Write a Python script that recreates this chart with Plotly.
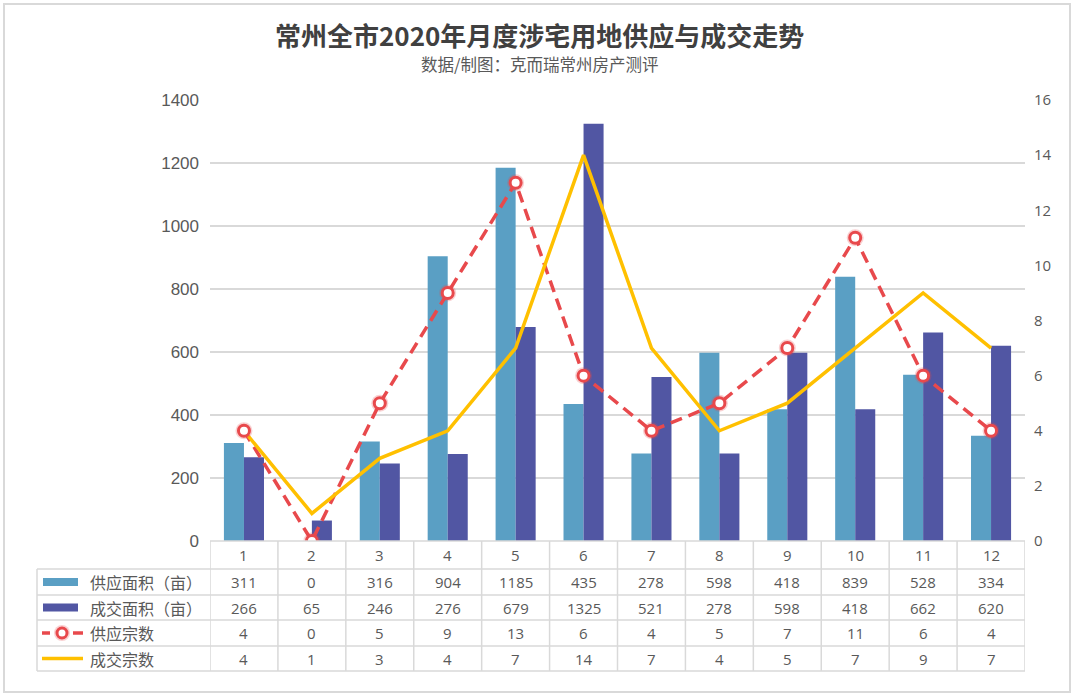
import plotly.graph_objects as go

months = [1, 2, 3, 4, 5, 6, 7, 8, 9, 10, 11, 12]
supply_area = [311, 0, 316, 904, 1185, 435, 278, 598, 418, 839, 528, 334]
deal_area = [266, 65, 246, 276, 679, 1325, 521, 278, 598, 418, 662, 620]
supply_count = [4, 0, 5, 9, 13, 6, 4, 5, 7, 11, 6, 4]
deal_count = [4, 1, 3, 4, 7, 14, 7, 4, 5, 7, 9, 7]
series_names = ["供应面积（亩）", "成交面积（亩）", "供应宗数", "成交宗数"]
title_text = "常州全市2020年月度涉宅用地供应与成交走势"
subtitle_text = "数据/制图：克而瑞常州房产测评"

W, H = 1080, 699
L, R, T, B = 210, 55, 100, 158
PW = W - L - R
PH = H - T - B
PLOT_BOTTOM = H - B

C_SUP = "#5A9FC4"
C_DEAL = "#5156A3"
C_RED = "#E8494C"
C_YEL = "#FFC000"
GRID = "#D9D9D9"
TXT = "#595959"
CJK = "Noto Sans CJK SC"


def py2p(py):
    return (PLOT_BOTTOM - py) / PH


def px2p(px):
    return (px - L) / PW


fig = go.Figure()
fig.add_trace(go.Bar(x=months, y=supply_area, name=series_names[0], marker_color=C_SUP,
                     marker_line_width=0))
fig.add_trace(go.Bar(x=months, y=deal_area, name=series_names[1], marker_color=C_DEAL,
                     marker_line_width=0))
fig.add_trace(go.Scatter(x=months, y=supply_count, name=series_names[2], yaxis="y2",
                         mode="lines", line=dict(color=C_RED, width=3.5, dash="12px,7px")))
fig.add_trace(go.Scatter(x=months, y=deal_count, name=series_names[3], yaxis="y2",
                         mode="lines", line=dict(color=C_YEL, width=3.5)))
# marker halo + ring
fig.add_trace(go.Scatter(x=months, y=supply_count, yaxis="y2", mode="markers",
                         marker=dict(size=17, color="rgba(232,73,76,0.25)", line=dict(width=0)),
                         showlegend=False, hoverinfo="skip"))
fig.add_trace(go.Scatter(x=months, y=supply_count, yaxis="y2", mode="markers",
                         marker=dict(size=11, color="white", line=dict(color=C_RED, width=3)),
                         showlegend=False, hoverinfo="skip"))

shapes = []
annotations = []

# Outer border
shapes.append(dict(type="rect", xref="paper", yref="paper", x0=px2p(4), x1=px2p(1070),
                   y0=py2p(692), y1=py2p(4), line=dict(color=GRID, width=2), layer="below"))

# table geometry
row_lines = [569, 595, 620, 646, 671]
row_centers = [582, 607.5, 633, 658.5]
table_left = 37

# horizontal lines
shapes.append(dict(type="line", xref="paper", yref="paper", x0=0, x1=1, y0=py2p(541), y1=py2p(541),
                   line=dict(color=GRID, width=1.5)))
for yl in row_lines:
    shapes.append(dict(type="line", xref="paper", yref="paper", x0=px2p(table_left), x1=1,
                       y0=py2p(yl), y1=py2p(yl), line=dict(color=GRID, width=1.5)))
# vertical lines
shapes.append(dict(type="line", xref="paper", yref="paper", x0=px2p(table_left), x1=px2p(table_left),
                   y0=py2p(row_lines[0]), y1=py2p(row_lines[-1]), line=dict(color=GRID, width=1.5)))
for i in range(len(months) + 1):
    xb = months[0] - 0.5 + i
    shapes.append(dict(type="line", xref="x", yref="paper", x0=xb, x1=xb,
                       y0=py2p(541), y1=py2p(row_lines[-1]), line=dict(color=GRID, width=1.5)))

# header row (month labels)
for m in months:
    annotations.append(dict(x=m, y=py2p(555), xref="x", yref="paper", text=str(m), showarrow=False,
                            xanchor="center", yanchor="middle",
                            font=dict(family="Open Sans", size=15, color=TXT)))

table_rows = [supply_area, deal_area, supply_count, deal_count]
for r, vals in enumerate(table_rows):
    yc = py2p(row_centers[r])
    for m, v in zip(months, vals):
        annotations.append(dict(x=m, y=yc, xref="x", yref="paper", text=str(v), showarrow=False,
                                xanchor="center", yanchor="middle",
                                font=dict(family="Open Sans", size=15, color=TXT)))
    annotations.append(dict(x=px2p(88), y=yc, xref="paper", yref="paper", text=series_names[r],
                            showarrow=False, xanchor="left", yanchor="middle",
                            font=dict(family=CJK, size=16, color=TXT)))

# legend symbols
sx0, sx1 = px2p(43), px2p(78)
for r, col in [(0, C_SUP), (1, C_DEAL)]:
    yc = row_centers[r]
    shapes.append(dict(type="rect", xref="paper", yref="paper", x0=sx0, x1=sx1,
                       y0=py2p(yc + 4), y1=py2p(yc - 4), fillcolor=col, line=dict(width=0)))
yc = row_centers[2]
shapes.append(dict(type="line", xref="paper", yref="paper", x0=px2p(42), x1=px2p(50),
                   y0=py2p(yc), y1=py2p(yc), line=dict(color=C_RED, width=3.5)))
shapes.append(dict(type="line", xref="paper", yref="paper", x0=px2p(73), x1=px2p(83),
                   y0=py2p(yc), y1=py2p(yc), line=dict(color=C_RED, width=3.5)))
shapes.append(dict(type="circle", xref="paper", yref="paper", xsizemode="pixel", ysizemode="pixel",
                   xanchor=px2p(62), yanchor=py2p(yc), x0=-8, x1=8, y0=-8, y1=8,
                   fillcolor="rgba(232,73,76,0.25)", line=dict(width=0)))
shapes.append(dict(type="circle", xref="paper", yref="paper", xsizemode="pixel", ysizemode="pixel",
                   xanchor=px2p(62), yanchor=py2p(yc), x0=-5, x1=5, y0=-5, y1=5,
                   fillcolor="white", line=dict(color=C_RED, width=3)))
yc = row_centers[3]
shapes.append(dict(type="line", xref="paper", yref="paper", x0=px2p(42), x1=px2p(83),
                   y0=py2p(yc), y1=py2p(yc), line=dict(color=C_YEL, width=3.5)))

# Title and subtitle
annotations.append(dict(x=px2p(539), y=py2p(34), xref="paper", yref="paper", text="<b>" + title_text + "</b>",
                        showarrow=False, xanchor="center", yanchor="middle",
                        font=dict(family=CJK, size=26, color="#404040")))
annotations.append(dict(x=px2p(539), y=py2p(64), xref="paper", yref="paper", text=subtitle_text,
                        showarrow=False, xanchor="center", yanchor="middle",
                        font=dict(family=CJK, size=16.5, color="#595959")))

fig.update_layout(
    width=W, height=H,
    margin=dict(l=L, r=R, t=T, b=B),
    paper_bgcolor="white", plot_bgcolor="white",
    showlegend=False,
    barmode="group", bargap=0.41, bargroupgap=0,
    xaxis=dict(range=[0.5, 12.5], showticklabels=False, showgrid=False, zeroline=False,
               ticks="", showline=False, fixedrange=True),
    yaxis=dict(range=[0, 1400], tickvals=[0, 200, 400, 600, 800, 1000, 1200, 1400],
               showgrid=True, gridcolor=GRID, gridwidth=1.5, zeroline=False, showline=False,
               ticks="", ticklabelstandoff=10,
               tickfont=dict(family="Liberation Sans", size=17, color=TXT)),
    yaxis2=dict(range=[0, 16], tickvals=[0, 2, 4, 6, 8, 10, 12, 14, 16], overlaying="y", side="right",
                showgrid=False, zeroline=False, showline=False, ticks="", ticklabelstandoff=8,
                tickfont=dict(family="Open Sans", size=15, color=TXT)),
    shapes=shapes,
    annotations=annotations,
)

fig.write_html("out.html")
